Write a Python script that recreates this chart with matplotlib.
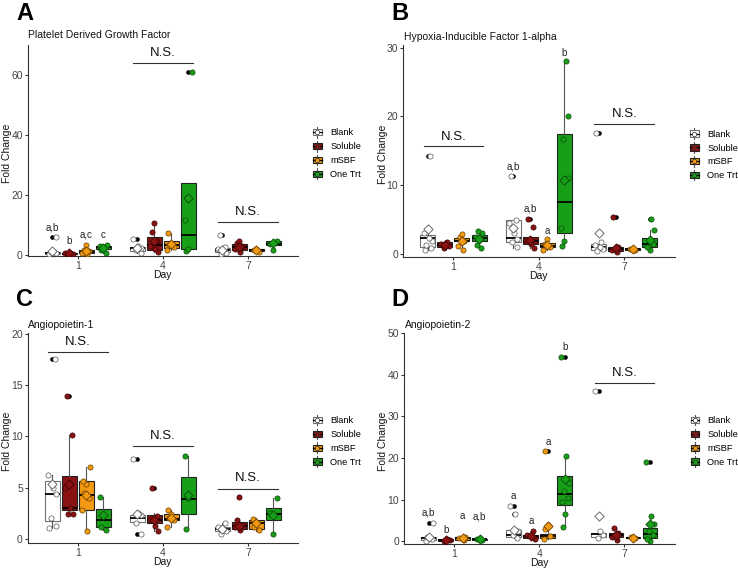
import matplotlib
matplotlib.use('Agg')
import matplotlib.pyplot as plt
from matplotlib.patches import Rectangle, Patch
from matplotlib.lines import Line2D
from matplotlib.legend_handler import HandlerBase

plt.rcParams['font.family'] = ['Liberation Sans', 'DejaVu Sans']

W, H = 738, 569

groups = ['Blank', 'Soluble', 'mSBF', 'One Trt']
days = ['1', '4', '7']
colors = ['#ffffff', '#8b1212', '#f39a12', '#17a017']
edge_box = ['#707070', '#222222', '#222222', '#222222']
edge_pt = ['#555555', '#3a0505', '#6b4000', '#0a4a0a']

# ---------------- Panel A : Platelet Derived Growth Factor ----------------
A_title = 'Platelet Derived Growth Factor'
A_lo   = [[0.1, 0.1, 0.3, 0.8], [0.8, 1.0, 1.5, 1.2], [0.3, 1.0, 1.0, 1.8]]
A_q1   = [[0.3, 0.2, 0.7, 2.0], [1.4, 1.5, 2.2, 2.1], [1.0, 1.5, 1.2, 3.2]]
A_med  = [[0.6, 0.4, 1.0, 2.6], [2.2, 3.2, 3.4, 6.8], [1.8, 2.5, 1.6, 3.8]]
A_q3   = [[0.9, 0.6, 1.5, 3.0], [2.8, 6.0, 4.5, 24.0], [2.3, 3.8, 2.0, 4.5]]
A_hi   = [[1.3, 0.8, 3.2, 3.3], [3.0, 10.8, 7.3, 24.0], [2.5, 4.5, 2.2, 4.7]]
A_mean = [[1.4, 0.5, 1.3, 2.4], [2.4, 4.5, 3.6, 19.0], [1.8, 2.6, 1.6, 4.0]]
A_pts = [
    [[0.2, 0.5, 0.9, 6.0], [0.2, 0.3, 0.5, 0.7], [0.3, 0.8, 1.2, 1.8, 3.2], [0.8, 1.8, 2.5, 3.0, 3.3]],
    [[0.8, 1.5, 2.4, 3.0, 5.3], [1.0, 2.0, 3.0, 4.5, 7.5, 10.8], [1.8, 2.5, 3.3, 4.0, 7.3], [1.3, 2.0, 11.5, 61.0]],
    [[0.3, 0.8, 1.5, 2.0, 2.5, 6.8], [1.0, 2.0, 3.0, 4.0, 4.5], [1.1, 1.5, 2.0], [1.8, 3.8, 4.5]],
]
A_out = [[[6.0], [], [], []], [[5.3], [], [], [61.0]], [[6.8], [], [], []]]
A_letters = [(0, 0, 'a,b', 9.1), (0, 1, 'b', 4.8), (0, 2, 'a,c', 6.7), (0, 3, 'c', 6.7)]
A_ns = [(1, 67.4, 63.9), (2, 14.2, 11.0)]
A_yticks = [0, 20, 40, 60]

# ---------------- Panel B : HIF-1 alpha ----------------
B_title = 'Hypoxia-Inducible Factor 1-alpha'
B_lo   = [[0.5, 0.9, 0.6, 0.8], [0.9, 0.8, 0.6, 1.2], [0.4, 0.2, 0.4, 0.5]]
B_q1   = [[1.0, 1.0, 1.8, 1.8], [1.7, 1.45, 1.0, 3.0], [0.6, 0.4, 0.5, 1.0]]
B_med  = [[2.3, 1.3, 1.9, 2.3], [2.3, 1.8, 1.2, 7.5], [1.0, 0.7, 0.65, 1.5]]
B_q3   = [[2.7, 1.7, 2.3, 2.7], [4.9, 2.4, 1.55, 17.5], [1.5, 1.0, 0.8, 2.3]]
B_hi   = [[3.0, 1.8, 2.9, 3.3], [4.9, 2.5, 2.1, 28.0], [1.7, 1.2, 0.9, 3.5]]
B_mean = [[3.6, 1.3, 1.9, 2.2], [3.7, 2.0, 1.3, 10.8], [3.0, 0.8, 0.65, 2.0]]
B_pts = [
    [[0.5, 0.9, 1.3, 1.8, 2.3, 3.0, 14.2], [0.9, 1.1, 1.3, 1.5, 1.7], [0.6, 1.2, 1.9, 2.5, 2.9], [0.8, 1.3, 2.0, 2.5, 3.0, 3.3]],
    [[1.0, 1.7, 2.2, 3.0, 4.5, 4.9, 11.4], [0.8, 1.5, 2.0, 3.9, 5.1], [0.6, 1.0, 1.5, 2.1], [1.2, 1.8, 3.7, 11.0, 16.7, 20.0, 28.0]],
    [[0.4, 0.7, 1.0, 1.3, 1.7, 17.6], [0.3, 0.6, 1.0, 5.3], [0.5, 0.7], [0.6, 1.0, 1.5, 2.0, 3.5, 5.1]],
]
B_out = [[[14.2], [], [], []], [[11.4], [5.1], [], []], [[17.6], [5.3], [], [5.1]]]
B_letters = [(1, 0, 'a,b', 12.7), (1, 1, 'a,b', 6.6), (1, 2, 'a', 3.3), (1, 3, 'b', 29.3)]
B_ns = [(0, 17.0, 15.7), (2, 20.4, 18.9)]
B_yticks = [0, 10, 20, 30]

# ---------------- Panel C : Angiopoietin-1 ----------------
C_title = 'Angiopoietin-1'
C_lo   = [[1.1, 2.4, 0.8, 0.9], [1.5, 0.8, 1.2, 1.0], [0.5, 0.8, 0.8, 0.5]]
C_q1   = [[1.7, 2.8, 2.8, 1.2], [1.6, 1.5, 1.8, 2.4], [0.8, 1.0, 1.0, 1.8]]
C_med  = [[4.4, 3.0, 4.3, 1.8], [2.0, 1.8, 1.9, 3.9], [1.0, 1.3, 1.5, 2.4]]
C_q3   = [[5.6, 6.1, 5.6, 2.9], [2.3, 2.3, 2.4, 6.0], [1.2, 1.6, 1.8, 3.0]]
C_hi   = [[6.2, 10.1, 7.0, 4.1], [2.5, 2.5, 2.8, 8.1], [1.5, 1.9, 2.0, 4.0]]
C_mean = [[5.3, 5.3, 4.3, 2.3], [2.4, 1.8, 2.0, 4.3], [1.0, 1.3, 1.5, 2.3]]
C_pts = [
    [[1.1, 1.3, 2.0, 4.4, 5.0, 6.2, 17.5], [2.4, 2.4, 3.0, 5.0, 10.1, 13.9], [0.8, 2.8, 4.0, 4.5, 5.3, 5.6, 7.0], [0.9, 1.2, 2.2, 4.1]],
    [[0.5, 1.5, 2.3, 2.5, 7.8], [0.8, 1.3, 1.8, 2.2, 5.0], [1.2, 1.8, 2.0, 2.4, 2.8], [1.0, 4.0, 8.1]],
    [[0.5, 0.8, 1.0, 1.2, 1.5], [0.9, 1.2, 1.4, 1.8, 4.1], [0.9, 1.2, 1.5, 1.9], [0.5, 2.5, 4.0]],
]
C_out = [[[17.5], [13.9], [], []], [[7.8, 0.5], [5.0], [], []], [[], [4.1], [], []]]
C_letters = []
C_ns = [(0, 19.2, 18.2), (1, 10.05, 9.0), (2, 5.9, 4.86)]
C_yticks = [0, 5, 10, 15, 20]

# ---------------- Panel D : Angiopoietin-2 ----------------
D_title = 'Angiopoietin-2'
D_lo   = [[0.0, 0.0, 0.2, 0.2], [0.7, 0.5, 0.5, 3.5], [0.8, 0.3, 0.6, 0.0]]
D_q1   = [[0.3, 0.1, 0.4, 0.3], [1.0, 0.8, 0.8, 8.7], [1.0, 1.0, 0.7, 0.8]]
D_med  = [[0.7, 0.3, 0.8, 0.5], [1.5, 1.2, 1.3, 11.3], [1.8, 1.5, 0.9, 1.8]]
D_q3   = [[1.0, 0.5, 1.0, 0.6], [2.8, 1.5, 1.8, 15.8], [2.0, 2.0, 1.1, 3.2]]
D_hi   = [[1.3, 0.6, 1.2, 0.7], [3.0, 2.5, 4.0, 20.5], [2.5, 3.2, 1.3, 6.0]]
D_mean = [[1.1, 0.3, 0.8, 0.5], [2.8, 1.3, 3.7, 15.0], [6.0, 1.6, 0.9, 4.2]]
D_pts = [
    [[0.1, 0.5, 1.0, 4.3], [0.1, 0.3, 0.5], [0.3, 0.8, 1.1], [0.3, 0.5, 0.6]],
    [[0.7, 1.5, 2.5, 6.5, 8.5], [0.5, 1.0, 1.5, 2.5], [0.5, 1.2, 3.0, 4.0, 21.8], [3.5, 6.5, 9.5, 10.5, 12.0, 14.0, 20.5, 44.3]],
    [[0.8, 1.5, 2.5, 36.1], [0.3, 1.0, 2.0, 3.2], [0.7, 1.0], [0.1, 0.5, 1.5, 2.5, 4.2, 6.0, 19.0]],
]
D_out = [[[4.3], [], [], []], [[6.5, 8.5], [], [21.8], [44.3]], [[36.1], [], [], [19.0]]]
D_letters = [(0, 0, 'a,b', 7.0), (0, 1, 'b', 2.7), (0, 2, 'a', 6.0), (0, 3, 'a,b', 6.0),
             (1, 0, 'a', 10.9), (1, 1, 'a', 4.9), (1, 2, 'a', 23.8), (1, 3, 'b', 46.8)]
D_ns = [(2, 40.4, 38.0)]
D_yticks = [0, 10, 20, 30, 40, 50]


def fx(x):
    return x / W


def fy(y):
    return 1 - y / H


class BoxKeyHandler(HandlerBase):
    def __init__(self, fc, ec):
        super().__init__()
        self.fc = fc
        self.ec = ec

    def create_artists(self, legend, orig_handle, xdescent, ydescent, width, height, fontsize, trans):
        x0, y0 = -xdescent, -ydescent
        cx = x0 + width / 2
        arts = [
            Line2D([cx, cx], [y0 - height * 0.1, y0 + height * 1.1], color='#555555', lw=0.8, transform=trans),
            Rectangle((x0, y0 + height * 0.15), width, height * 0.7, facecolor=self.fc,
                      edgecolor=self.ec, lw=0.8, transform=trans),
            Line2D([x0, x0 + width], [y0 + height / 2] * 2, color='black', lw=0.9, transform=trans),
            Line2D([cx], [y0 + height / 2], marker='o', markersize=3.2, markerfacecolor=self.fc,
                   markeredgecolor='#333333', markeredgewidth=0.5, transform=trans),
        ]
        return arts


fig = plt.figure(figsize=(W / 100, H / 100), dpi=100)

panels = [
    dict(letter='A', title=A_title, lo=A_lo, q1=A_q1, med=A_med, q3=A_q3, hi=A_hi, mean=A_mean, pts=A_pts,
         out=A_out, letters=A_letters, ns=A_ns, yticks=A_yticks, ylim=(-0.35, 70.0),
         box=(27.7, 298.0, 45.0, 256.0), leg=(313.3, 153.4), letpos=(16, 14), tpos=(28, 35), ylab=7.5),
    dict(letter='B', title=B_title, lo=B_lo, q1=B_q1, med=B_med, q3=B_q3, hi=B_hi, mean=B_mean, pts=B_pts,
         out=B_out, letters=B_letters, ns=B_ns, yticks=B_yticks, ylim=(-0.5, 30.4),
         box=(403.0, 674.7, 45.0, 257.3), leg=(690.3, 154.7), letpos=(391, 14), tpos=(404.5, 37), ylab=383),
    dict(letter='C', title=C_title, lo=C_lo, q1=C_q1, med=C_med, q3=C_q3, hi=C_hi, mean=C_mean, pts=C_pts,
         out=C_out, letters=C_letters, ns=C_ns, yticks=C_yticks, ylim=(-0.4, 20.02),
         box=(27.7, 298.0, 333.3, 543.0), leg=(313.3, 441.2), letpos=(16, 299), tpos=(28, 324.7), ylab=7.5),
    dict(letter='D', title=D_title, lo=D_lo, q1=D_q1, med=D_med, q3=D_q3, hi=D_hi, mean=D_mean, pts=D_pts,
         out=D_out, letters=D_letters, ns=D_ns, yticks=D_yticks, ylim=(-0.65, 50.0),
         box=(404.0, 674.7, 333.3, 544.0), leg=(690.7, 441.2), letpos=(391, 299), tpos=(404.5, 324.7), ylab=383),
]

offs = [-0.3, -0.1, 0.1, 0.3]
bw = 0.175
jit = [-0.035, 0.04, -0.015, 0.045, 0.012, -0.048, 0.028, -0.028, 0.0]

for P in panels:
    l, r, t, b = P['box']
    ax = fig.add_axes([fx(l), fy(b), (r - l) / W, (b - t) / H])
    for d in range(3):
        for g in range(4):
            pos = d + 1 + offs[g]
            st = dict(whislo=P['lo'][d][g], q1=P['q1'][d][g], med=P['med'][d][g],
                      q3=P['q3'][d][g], whishi=P['hi'][d][g], fliers=P['out'][d][g])
            ax.bxp([st], positions=[pos], widths=bw, patch_artist=True, showcaps=False,
                   boxprops=dict(facecolor=colors[g], edgecolor=edge_box[g], linewidth=0.8),
                   medianprops=dict(color='black', linewidth=1.3),
                   whiskerprops=dict(color='#555555', linewidth=0.8),
                   flierprops=dict(marker='o', markerfacecolor='black', markeredgecolor='black',
                                   markersize=2.3, linestyle='none'),
                   manage_ticks=False, zorder=2)
            ys = P['pts'][d][g]
            xs = [pos + jit[(i + 2 * g + d) % len(jit)] for i in range(len(ys))]
            ax.scatter(xs, ys, s=14, c=colors[g], edgecolors=edge_pt[g], linewidths=0.5, zorder=3)
            ax.scatter([pos], [P['mean'][d][g]], marker='D', s=22, c=colors[g],
                       edgecolors=edge_pt[g], linewidths=0.6, zorder=4)
    for (d, g, txt, y) in P['letters']:
        ax.text(d + 1 + offs[g], y, txt, ha='center', va='center', fontsize=7, color='#222222', zorder=5)
    for (d, ty, ly) in P['ns']:
        ax.plot([d + 1 - 0.35, d + 1 + 0.35], [ly, ly], color='#333333', lw=0.8, zorder=5)
        ax.text(d + 1, ty, 'N.S.', ha='center', va='center', fontsize=9.5, color='#111111', zorder=5)

    ax.set_xlim(0.41, 3.59)
    ax.set_ylim(*P['ylim'])
    ax.set_xticks([1, 2, 3])
    ax.set_xticklabels(days)
    ax.set_yticks(P['yticks'])
    for s in ['top', 'right']:
        ax.spines[s].set_visible(False)
    for s in ['left', 'bottom']:
        ax.spines[s].set_color('#333333')
        ax.spines[s].set_linewidth(0.8)
    ax.tick_params(axis='both', length=2.5, width=0.8, pad=1, colors='#333333', labelsize=7.5,
                   labelcolor='#444444')

    fig.text(fx((l + r) / 2), fy(b + 19), 'Day', ha='center', va='center', fontsize=7.5, color='#111111')
    fig.text(fx(P['ylab']), fy((t + b) / 2 + 3), 'Fold Change', rotation=90, ha='center', va='center',
             fontsize=7.5, color='#111111')
    fig.text(fx(P['tpos'][0]), fy(P['tpos'][1]), P['title'], ha='left', va='center', fontsize=7.5,
             color='#111111')
    fig.text(fx(P['letpos'][0]), fy(P['letpos'][1]), P['letter'], ha='left', va='center', fontsize=17,
             fontweight='bold', color='black')

    handles = [Patch(facecolor=c) for c in colors]
    hmap = {h: BoxKeyHandler(colors[i], edge_box[i]) for i, h in enumerate(handles)}
    ax.legend(handles, groups, handler_map=hmap, loc='center left',
              bbox_to_anchor=(fx(P['leg'][0]), fy(P['leg'][1])), bbox_transform=fig.transFigure,
              frameon=False, borderpad=0, borderaxespad=0, handlelength=0.9, handleheight=1.1,
              handletextpad=0.9, labelspacing=0.45, fontsize=6.7)

fig.savefig('out.png', dpi=100)
